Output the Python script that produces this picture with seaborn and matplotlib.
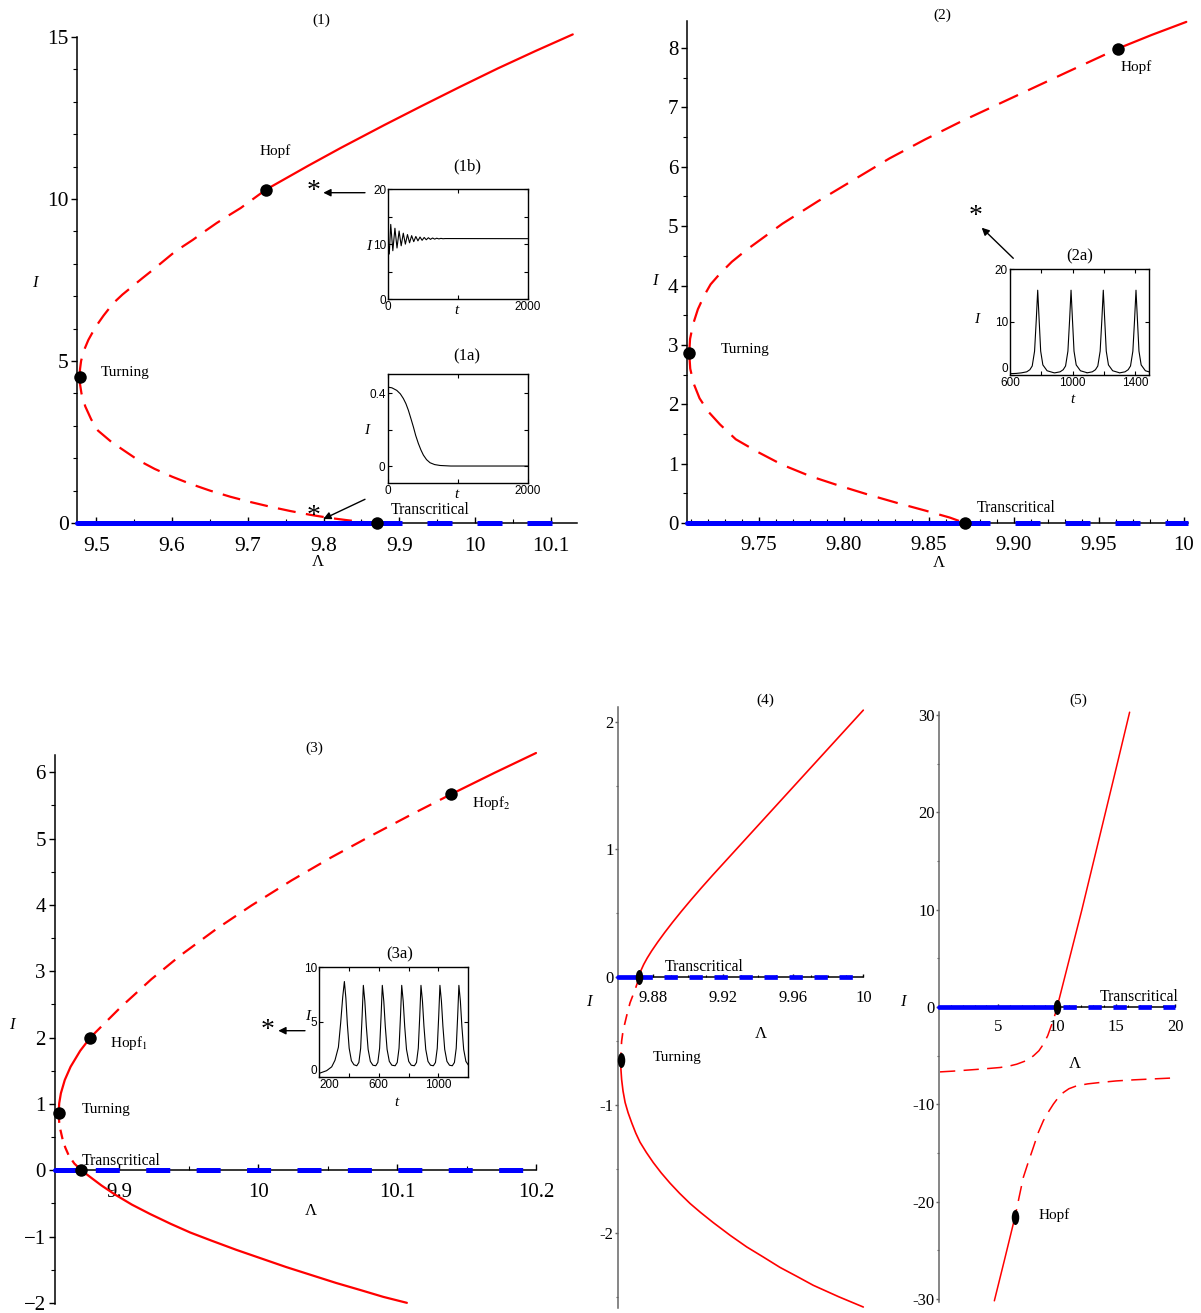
import numpy as np
import pandas as pd
import matplotlib
matplotlib.use("Agg")
import matplotlib.pyplot as plt
import seaborn as sns
from matplotlib.markers import MarkerStyle
from matplotlib.transforms import Affine2D
from matplotlib.ticker import FixedLocator

sns.set_theme(style="white")
plt.rcParams.update({
    "font.family": ["Liberation Serif", "DejaVu Serif"],
    "mathtext.fontset": "stix",
    "lines.scale_dashes": False,
    "axes.edgecolor": "black",
    "xtick.color": "black",
    "ytick.color": "black",
    "text.color": "black",
})

RED = "#ff0000"
BLUE = "#0000ff"

# ---------------- panel (1) ----------------
p1_turn = (9.478, 4.52)
p1_hopf = (9.724, 10.29)
p1_tc = (9.870, 0.0)
p1_up_dash_lam = [9.478, 9.4785, 9.4799, 9.4832, 9.4895, 9.4990, 9.5095, 9.5222, 9.5345, 9.5470,
                  9.5605, 9.5745, 9.5880, 9.6015, 9.6145, 9.6275, 9.6430, 9.6590, 9.6745, 9.6905,
                  9.7070, 9.7240]
p1_up_dash_I = [4.52, 4.75, 5.00, 5.30, 5.65, 6.05, 6.40, 6.78, 7.05, 7.29, 7.55, 7.81, 8.07, 8.33,
                8.54, 8.74, 9.00, 9.26, 9.49, 9.72, 10.00, 10.29]
p1_up_solid_lam = [9.724, 9.78, 9.823, 9.88, 9.9295, 9.98, 10.03, 10.08, 10.129]
p1_up_solid_I = [10.29, 11.03, 11.58, 12.28, 12.87, 13.46, 14.03, 14.57, 15.08]
p1_lo_dash_lam = [9.478, 9.4784, 9.4804, 9.4854, 9.4932, 9.5023, 9.520, 9.537, 9.556, 9.577, 9.600,
                  9.624, 9.650, 9.677, 9.703, 9.730, 9.756, 9.783, 9.807, 9.830, 9.850, 9.870]
p1_lo_dash_I = [4.52, 4.30, 4.00, 3.60, 3.20, 2.85, 2.50, 2.23, 1.93, 1.67, 1.43, 1.21, 1.00, 0.81,
                0.65, 0.50, 0.37, 0.25, 0.16, 0.09, 0.035, 0.0]
p1_dfe_lam = [9.4749, 9.870, 10.1346]
p1_xticks = [9.5, 9.6, 9.7, 9.8, 9.9, 10.0, 10.1]
p1_xticklabels = ["9.5", "9.6", "9.7", "9.8", "9.9", "10", "10.1"]
p1_yticks = [0, 5, 10, 15]
p1_yticklabels = ["0", "5", "10", "15"]

# inset (1b): damped oscillation, turning points of I(t)
a1b_t = [0, 14, 35, 65, 95, 125, 155, 185, 215, 245, 275, 305, 335, 365, 395, 425, 455,
         485, 515, 545, 575, 605, 635, 665, 695, 725, 755, 785, 815, 2000]
a1b_I = [10.0, 8.2, 13.6, 8.8, 12.9, 9.3, 12.4, 9.7, 12.0, 10.0, 11.75, 10.25, 11.55, 10.45,
         11.4, 10.6, 11.3, 10.7, 11.22, 10.8, 11.17, 10.87, 11.12, 10.92, 11.08, 10.96, 11.05,
         10.99, 11.02, 11.0]
# inset (1a): decay to the disease-free state
a1a_t = [0, 60, 129, 180, 224, 260, 295, 330, 367, 400, 438, 475, 510, 555, 605, 670, 748, 900, 2000]
a1a_I = [0.434, 0.430, 0.416, 0.397, 0.371, 0.343, 0.307, 0.263, 0.215, 0.168, 0.124, 0.088,
         0.060, 0.035, 0.018, 0.008, 0.003, 0.0, 0.0]

# ---------------- panel (2) ----------------
p2_turn = (9.7089, 2.86)
p2_hopf = (9.9611, 7.99)
p2_tc = (9.871, 0.0)
p2_up_dash_lam = [9.7089, 9.7094, 9.7112, 9.7140, 9.7177, 9.7215, 9.727, 9.734, 9.7426, 9.7637,
                  9.7847, 9.8057, 9.8267, 9.8477, 9.8687, 9.8897, 9.9107, 9.9317, 9.9506, 9.9611]
p2_up_dash_I = [2.86, 3.10, 3.35, 3.60, 3.83, 4.02, 4.20, 4.40, 4.60, 5.04, 5.42, 5.78, 6.14, 6.46,
                6.76, 7.04, 7.32, 7.60, 7.85, 7.99]
p2_up_solid_lam = [9.9611, 9.981, 10.0014]
p2_up_solid_I = [7.99, 8.22, 8.44]
p2_lo_dash_lam = [9.7089, 9.7095, 9.7115, 9.7150, 9.7200, 9.7270, 9.7363, 9.749, 9.7637, 9.780,
                  9.797, 9.814, 9.831, 9.8477, 9.8624, 9.871]
p2_lo_dash_I = [2.86, 2.60, 2.35, 2.10, 1.88, 1.66, 1.41, 1.20, 0.98, 0.79, 0.63, 0.48, 0.34,
                0.21, 0.09, 0.0]
p2_dfe_lam = [9.7076, 9.871, 10.0024]
p2_xticks = [9.75, 9.80, 9.85, 9.90, 9.95, 10.0]
p2_xticklabels = ["9.75", "9.80", "9.85", "9.90", "9.95", "10"]
p2_yticks = [0, 1, 2, 3, 4, 5, 6, 7, 8]
p2_yticklabels = ["0", "1", "2", "3", "4", "5", "6", "7", "8"]

# inset (2a): sustained spikes
a2_start_t = [600, 640]
a2_start_I = [0.25, 0.3]
a2_peak_t = [777, 990, 1196, 1405]
a2_peak_I = [16.0, 16.0, 16.0, 16.0]
a2_rise_dt = [-105, -70, -50, -35, -20, -9]
a2_rise_I = [0.4, 0.6, 1.0, 1.7, 4.5, 10.5]
a2_fall_dt = [9, 19, 33, 60, 100]
a2_fall_I = [10.5, 4.5, 1.9, 0.8, 0.45]

# ---------------- panel (3) ----------------
p3_turn = (9.8562, 0.86)
p3_hopf1 = (9.879, 2.0)
p3_hopf2 = (10.139, 5.67)
p3_tc = (9.8725, 0.0)
p3_up_solid1_lam = [9.8562, 9.8566, 9.8578, 9.8606, 9.8648, 9.8717, 9.879]
p3_up_solid1_I = [0.86, 1.01, 1.16, 1.36, 1.56, 1.80, 2.0]
p3_up_dash_lam = [9.879, 9.901, 9.923, 9.944, 9.970, 9.995, 10.024, 10.052, 10.081, 10.110, 10.139]
p3_up_dash_I = [2.0, 2.46, 2.88, 3.24, 3.64, 3.99, 4.37, 4.71, 5.04, 5.36, 5.67]
p3_up_solid2_lam = [10.139, 10.170, 10.200]
p3_up_solid2_I = [5.67, 5.99, 6.29]
p3_lo_dash_lam = [9.8562, 9.8566, 9.857, 9.8581, 9.8592, 9.861, 9.8635, 9.8675, 9.8725]
p3_lo_dash_I = [0.86, 0.72, 0.65, 0.55, 0.45, 0.34, 0.22, 0.10, 0.0]
p3_lo_solid_lam = [9.8725, 9.880, 9.887, 9.897, 9.909, 9.922, 9.937, 9.951, 9.966, 9.984, 10.002,
                   10.020, 10.038, 10.056, 10.074, 10.090, 10.107]
p3_lo_solid_I = [0.0, -0.12, -0.23, -0.37, -0.52, -0.66, -0.81, -0.94, -1.06, -1.20, -1.33, -1.46,
                 -1.58, -1.70, -1.81, -1.91, -2.0]
p3_dfe_lam = [9.8532, 9.8725, 10.2]
p3_xticks = [9.9, 10.0, 10.1, 10.2]
p3_xticklabels = ["9.9", "10", "10.1", "10.2"]
p3_yticks = [-2, -1, 0, 1, 2, 3, 4, 5, 6]
p3_yticklabels = ["\u22122", "\u22121", "0", "1", "2", "3", "4", "5", "6"]

# inset (3a): periodic solution
a3_start_t = [200, 251, 285, 307, 330, 345, 359]
a3_start_I = [0.3, 0.55, 0.9, 1.5, 2.7, 4.9, 7.3]
a3_peak_t = [370, 497, 624, 754, 883, 1010, 1137]
a3_peak_I = [8.7, 8.35, 8.35, 8.35, 8.35, 8.35, 8.35]
a3_rise_dt = [-44, -30, -18, -8]
a3_rise_I = [1.0, 1.3, 2.6, 5.6]
a3_fall_dt = [10, 20, 32, 47, 64]
a3_fall_I = [6.9, 4.6, 2.5, 1.4, 1.05]

# ---------------- panel (4) ----------------
p4_turn = (9.8614, -0.65)
p4_tc = (9.872, 0.0)
p4_up_solid_lam = [9.872, 9.873, 9.8745, 9.8765, 9.879, 9.8825, 9.8865, 9.891, 9.896, 9.9015,
                   9.9075, 9.914, 9.933, 9.952, 9.971, 9.990, 10.0]
p4_up_solid_I = [0.0, 0.055, 0.10, 0.15, 0.205, 0.275, 0.35, 0.43, 0.515, 0.605, 0.70, 0.80,
                 1.085, 1.37, 1.655, 1.94, 2.09]
p4_mid_dash_lam = [9.872, 9.8695, 9.8667, 9.8648, 9.8634, 9.8625, 9.8619, 9.8616, 9.8614]
p4_mid_dash_I = [0.0, -0.10, -0.20, -0.30, -0.38, -0.44, -0.50, -0.57, -0.65]
p4_lo_solid_lam = [9.8614, 9.8615, 9.8619, 9.8627, 9.8639, 9.8656, 9.8677, 9.8700, 9.8724, 9.876,
                   9.880, 9.8845, 9.8895, 9.895, 9.901, 9.907, 9.9143, 9.924, 9.9334, 9.943,
                   9.9524, 9.962, 9.9714, 9.986, 10.0]
p4_lo_solid_I = [-0.65, -0.72, -0.80, -0.89, -0.98, -1.06, -1.14, -1.22, -1.29, -1.37, -1.45,
                 -1.53, -1.61, -1.69, -1.77, -1.84, -1.92, -2.02, -2.11, -2.19, -2.27, -2.34,
                 -2.41, -2.50, -2.58]
p4_dfe_lam = [9.86, 9.872, 10.0]
p4_xticks = [9.88, 9.92, 9.96, 10.0]
p4_xticklabels = ["9.88", "9.92", "9.96", "10"]
p4_yticks = [-2, -1, 0, 1, 2]
p4_yticklabels = ["-2", "-1", "0", "1", "2"]

# ---------------- panel (5) ----------------
p5_hopf = (6.43, -21.54)
p5_tc = (10.0, 0.0)
p5_b1_dash_lam = [0.06, 1.2, 2.33, 3.7, 5.15, 5.9, 6.57, 7.3, 7.98, 8.45, 8.83, 9.2, 9.54, 9.8, 10.0]
p5_b1_dash_I = [-6.67, -6.59, -6.49, -6.37, -6.22, -6.08, -5.88, -5.55, -5.03, -4.50, -3.83,
                -2.95, -1.8, -0.85, 0.0]
p5_b1_solid_lam = [10.0, 11.05, 12.1, 13.1, 14.1, 15.1, 16.15]
p5_b1_solid_I = [0.0, 5.0, 10.0, 15.0, 20.0, 25.0, 30.3]
p5_b2_dash_lam = [19.58, 18.0, 16.47, 15.0, 13.64, 12.6, 11.66, 11.0, 10.53, 10.1, 9.68, 9.25,
                  8.83, 8.4, 7.98, 7.55, 7.13, 6.78, 6.43]
p5_b2_dash_I = [-7.31, -7.40, -7.49, -7.60, -7.76, -7.90, -8.10, -8.40, -8.79, -9.30, -9.98,
                -10.8, -11.69, -12.9, -14.43, -15.95, -17.51, -19.5, -21.54]
p5_b2_solid_lam = [6.43, 5.55, 4.67]
p5_b2_solid_I = [-21.54, -25.9, -30.2]
p5_dfe_lam = [0.0, 10.0, 20.0]
p5_xticks = [5, 10, 15, 20]
p5_xticklabels = ["5", "10", "15", "20"]
p5_yticks = [-30, -20, -10, 0, 10, 20, 30]
p5_yticklabels = ["-30", "-20", "-10", "0", "10", "20", "30"]

# ======================================================================
W, H = 1201, 1313
fig = plt.figure(figsize=(W / 100, H / 100), dpi=100)


def px_axes(l, t, r, b, z=1):
    ax = fig.add_axes([l / W, 1 - b / H, (r - l) / W, (b - t) / H])
    ax.set_zorder(z)
    return ax


def ftext(x, y, s, size=11, ha="center", style="normal"):
    fig.text(x / W, 1 - y / H, s, fontsize=size, ha=ha, va="center", fontstyle=style)


def arrow(tail, head):
    fig.axes[0].annotate("", xy=(head[0], H - head[1]), xytext=(tail[0], H - tail[1]),
                         xycoords="figure pixels", textcoords="figure pixels",
                         arrowprops=dict(arrowstyle="-|>", color="black", lw=1.0,
                                         mutation_scale=11, shrinkA=0, shrinkB=0),
                         annotation_clip=False)


def branch(ax, lam, val, color=RED, lw=1.6, dash=None, z=2):
    df = pd.DataFrame({"lam": lam, "val": val})
    kw = dict(color=color, linewidth=lw, zorder=z, clip_on=False)
    if dash is not None:
        kw["linestyle"] = dash
    sns.lineplot(data=df, x="lam", y="val", sort=False, estimator=None, ax=ax, **kw)
    ax.set_xlabel("")
    ax.set_ylabel("")


def dots(ax, pts, size=81, marker="o"):
    sns.scatterplot(x=[p[0] for p in pts], y=[p[1] for p in pts], ax=ax, s=size, marker=marker,
                    color="black", edgecolor="black", linewidth=0, zorder=6, clip_on=False)
    ax.set_xlabel("")
    ax.set_ylabel("")


def style_main(ax, xlim, ylim, xt, xtl, yt, ytl, xminor, yminor, fs, xpad, ypad=2.2,
               spine="black", zero=False, maj=4.0, mino=2.6):
    ax.set_xlim(xlim)
    ax.set_ylim(ylim)
    ax.patch.set_alpha(0)
    ax.grid(False)
    ax.spines["top"].set_visible(False)
    ax.spines["right"].set_visible(False)
    ax.spines["left"].set_color(spine)
    ax.spines["left"].set_linewidth(1.1)
    ax.spines["bottom"].set_color("black")
    ax.spines["bottom"].set_linewidth(1.1)
    ax.spines["bottom"].set_zorder(1)
    if zero:
        ax.spines["bottom"].set_position(("data", 0))
    ax.set_xticks(xt)
    ax.set_xticklabels(xtl)
    ax.set_yticks(yt)
    ax.set_yticklabels(ytl)
    ax.xaxis.set_minor_locator(FixedLocator(xminor))
    ax.yaxis.set_minor_locator(FixedLocator(yminor))
    ax.tick_params(axis="x", which="major", direction="in", length=maj, width=1, pad=xpad,
                   labelsize=fs, bottom=True)
    ax.tick_params(axis="x", which="minor", direction="in", length=mino, width=0.8, bottom=True)
    ax.tick_params(axis="y", which="major", direction="out", length=maj, width=1, pad=ypad,
                   labelsize=fs, left=True, colors=spine, labelcolor="black")
    ax.tick_params(axis="y", which="minor", direction="out", length=mino, width=0.8, left=True,
                   colors=spine)


def style_inset(ax, xlim, ylim, xt, xtl, yt, ytl):
    ax.set_xlim(xlim)
    ax.set_ylim(ylim)
    ax.set_facecolor("white")
    ax.grid(False)
    for s in ax.spines.values():
        s.set_visible(True)
        s.set_color("black")
        s.set_linewidth(1.0)
    ax.set_xticks(xt)
    ax.set_xticklabels(xtl)
    ax.set_yticks(yt)
    ax.set_yticklabels(ytl)
    ax.tick_params(direction="in", top=True, right=True, bottom=True, left=True, length=3,
                   width=0.8, labelsize=8.5, pad=1.5, labelfontfamily="Liberation Sans")


def pulses(start_t, start_I, peak_t, peak_I, rise_dt, rise_I, fall_dt, fall_I, ref, first_rise):
    t, v = list(start_t), list(start_I)
    for k, (tp, hp) in enumerate(zip(peak_t, peak_I)):
        if k > 0 or first_rise:
            t += [tp + d for d in rise_dt]
            v += list(rise_I)
        t.append(tp)
        v.append(hp)
        t += [tp + d for d in fall_dt]
        v += [x * hp / ref for x in fall_I]
    return t, v


# ---------------- panel (1) ----------------
ax1 = px_axes(77.3, 37, 577, 523)
branch(ax1, p1_up_dash_lam, p1_up_dash_I, dash=(0, (13, 7.5)))
branch(ax1, p1_lo_dash_lam, p1_lo_dash_I, dash=(0, (13, 7.5)))
branch(ax1, p1_up_solid_lam, p1_up_solid_I)
branch(ax1, p1_dfe_lam[:2], [0, 0], color=BLUE, lw=3.6, z=3)
branch(ax1, p1_dfe_lam[1:], [0, 0], color=BLUE, lw=3.6, dash=(0, (18, 18)), z=3)
dots(ax1, [p1_turn, p1_hopf, p1_tc])
style_main(ax1, (9.4749, 10.1346), (0, 15), p1_xticks, p1_xticklabels, p1_yticks, p1_yticklabels,
           np.arange(9.55, 10.14, 0.1), np.arange(0, 15.1, 1), fs=15.5, xpad=10)

ins1b = px_axes(388.3, 189.3, 527.7, 299, z=5)
sns.lineplot(x=a1b_t, y=a1b_I, ax=ins1b, color="black", linewidth=0.8, sort=False, estimator=None)
style_inset(ins1b, (0, 2000), (0, 20), [0, 1000, 2000], ["0", "", "2000"],
            [0, 5, 10, 15, 20], ["0", "", "10", "", "20"])

ins1a = px_axes(387.7, 374, 527.7, 483.3, z=5)
sns.lineplot(x=a1a_t, y=a1a_I, ax=ins1a, color="black", linewidth=0.8, sort=False, estimator=None)
style_inset(ins1a, (0, 2000), (-0.095, 0.506), [0, 1000, 2000], ["0", "", "2000"],
            [0, 0.2, 0.4], ["0", "", "0.4"])

# ---------------- panel (2) ----------------
ax2 = px_axes(687, 21.3, 1188, 523)
branch(ax2, p2_up_dash_lam, p2_up_dash_I, dash=(0, (15, 8)))
branch(ax2, p2_lo_dash_lam, p2_lo_dash_I, dash=(0, (15, 8)))
branch(ax2, p2_up_solid_lam, p2_up_solid_I)
branch(ax2, p2_dfe_lam[:2], [0, 0], color=BLUE, lw=3.6, z=3)
branch(ax2, p2_dfe_lam[1:], [0, 0], color=BLUE, lw=3.6, dash=(0, (18, 18)), z=3)
dots(ax2, [p2_turn, p2_hopf, p2_tc])
style_main(ax2, (9.7076, 10.0024), (0, 8.45), p2_xticks, p2_xticklabels, p2_yticks,
           p2_yticklabels, np.arange(9.71, 10.001, 0.01), np.arange(0, 8.45, 0.5), fs=15,
           xpad=9)

t2a, v2a = pulses(a2_start_t, a2_start_I, a2_peak_t, a2_peak_I, a2_rise_dt, a2_rise_I,
                  a2_fall_dt, a2_fall_I, 16.0, True)
ins2a = px_axes(1010, 269, 1149.3, 375, z=5)
sns.lineplot(x=t2a, y=v2a, ax=ins2a, color="black", linewidth=0.8, sort=False, estimator=None)
style_inset(ins2a, (600, 1490), (0, 20), [600, 800, 1000, 1200, 1400],
            ["600", "", "1000", "", "1400"], [0, 10, 20], ["0", "10", "20"])
ins2a.get_yticklabels()[0].set_verticalalignment("bottom")

# ---------------- panel (3) ----------------
ax3 = px_axes(54.5, 755, 536, 1303.5)
branch(ax3, p3_up_solid1_lam, p3_up_solid1_I)
branch(ax3, p3_up_dash_lam, p3_up_dash_I, dash=(0, (11, 7)))
branch(ax3, p3_up_solid2_lam, p3_up_solid2_I)
branch(ax3, p3_lo_dash_lam, p3_lo_dash_I, dash=(0, (7, 5)))
branch(ax3, p3_lo_solid_lam, p3_lo_solid_I)
branch(ax3, p3_dfe_lam[:2], [0, 0], color=BLUE, lw=3.6, z=3)
branch(ax3, p3_dfe_lam[1:], [0, 0], color=BLUE, lw=3.6, dash=(26, (17.3, 19)), z=3)
dots(ax3, [p3_turn, p3_hopf1, p3_hopf2, p3_tc])
style_main(ax3, (9.8532, 10.2), (-2.01, 6.26), p3_xticks, p3_xticklabels, p3_yticks,
           p3_yticklabels, np.arange(9.9, 10.21, 0.05), np.arange(-2, 6.26, 0.5), fs=15,
           xpad=9, zero=True)

t3a, v3a = pulses(a3_start_t, a3_start_I, a3_peak_t, a3_peak_I, a3_rise_dt, a3_rise_I,
                  a3_fall_dt, a3_fall_I, 8.35, False)
ins3a = px_axes(319, 967.3, 468.3, 1076.7, z=5)
sns.lineplot(x=t3a, y=v3a, ax=ins3a, color="black", linewidth=0.8, sort=False, estimator=None)
style_inset(ins3a, (200, 1200), (0, 10), [200, 400, 600, 800, 1000],
            ["200", "", "600", "", "1000"], [0, 5, 10], ["0", "5", "10"])
ins3a.get_xticklabels()[0].set_horizontalalignment("left")
ins3a.get_yticklabels()[0].set_verticalalignment("bottom")

# ---------------- panel (4) ----------------
ellipse = MarkerStyle("o", transform=Affine2D().scale(0.5, 1.0))
ax4 = px_axes(618.3, 706.7, 863.3, 1308.3)
branch(ax4, p4_up_solid_lam, p4_up_solid_I, lw=1.2)
branch(ax4, p4_mid_dash_lam, p4_mid_dash_I, lw=1.2, dash=(0, (8, 6)))
branch(ax4, p4_lo_solid_lam, p4_lo_solid_I, lw=1.2)
branch(ax4, p4_dfe_lam[:2], [0, 0], color=BLUE, lw=3.4, z=3)
branch(ax4, p4_dfe_lam[1:], [0, 0], color=BLUE, lw=3.4, dash=(0, (9.6, 8.4)), z=3)
dots(ax4, [p4_turn, p4_tc], size=117, marker=ellipse)
style_main(ax4, (9.86, 10.0), (-2.59, 2.117), p4_xticks, p4_xticklabels, p4_yticks,
           p4_yticklabels, np.arange(9.87, 10.0, 0.01), np.arange(-2.5, 2.1, 0.5), fs=12,
           xpad=9, ypad=0.8, spine="#666666", zero=True, maj=2.5, mino=1.8)

# ---------------- panel (5) ----------------
ax5 = px_axes(939.3, 711.7, 1175, 1301.7)
branch(ax5, p5_b1_dash_lam, p5_b1_dash_I, lw=1.1, dash=(0, (11, 6)))
branch(ax5, p5_b1_solid_lam, p5_b1_solid_I, lw=1.1)
branch(ax5, p5_b2_dash_lam, p5_b2_dash_I, lw=1.1, dash=(0, (11, 6)))
branch(ax5, p5_b2_solid_lam, p5_b2_solid_I, lw=1.1)
branch(ax5, p5_dfe_lam[:2], [0, 0], color=BLUE, lw=3.4, z=3)
branch(ax5, p5_dfe_lam[1:], [0, 0], color=BLUE, lw=3.4, dash=(13.7, (9.6, 8.4)), z=3)
dots(ax5, [p5_hopf, p5_tc], size=117, marker=ellipse)
style_main(ax5, (0, 20), (-30.29, 30.35), p5_xticks, p5_xticklabels, p5_yticks,
           p5_yticklabels, np.arange(1, 20, 1), np.arange(-25, 30, 10), fs=12,
           xpad=9, ypad=0.8, spine="#666666", zero=True, maj=2.5, mino=1.8)

# ---------------- labels ----------------
# panel (1)
ftext(321, 20, "(1)", 11)
ftext(35, 283, "I", 12, style="italic")
ftext(318, 562, "\u039b", 12)
ftext(275, 151, "Hopf", 11)
ftext(101, 373, "Turning", 11, ha="left")
ftext(391, 510, "Transcritical", 11.3, ha="left")
ftext(467.7, 166.7, "(1b)", 12)
ftext(466.7, 356.7, "(1a)", 12)
ftext(368.3, 246.7, "I", 11, style="italic")
ftext(456, 310.5, "t", 11, style="italic")
ftext(366.7, 430, "I", 11, style="italic")
ftext(456, 494, "t", 11, style="italic")
ftext(314, 191.7, "*", 20)
ftext(313.3, 516.7, "*", 20)
arrow((365, 192.7), (323.3, 192.7))
arrow((365, 499.3), (323.3, 519))

# panel (2)
ftext(942, 15, "(2)", 11)
ftext(655, 281, "I", 12, style="italic")
ftext(939, 563, "\u039b", 12)
ftext(1121, 67, "Hopf", 11, ha="left")
ftext(721, 349, "Turning", 11, ha="left")
ftext(977, 508, "Transcritical", 11.3, ha="left")
ftext(1079.3, 256, "(2a)", 12)
ftext(977, 320, "I", 11, style="italic")
ftext(1072, 400, "t", 11, style="italic")
ftext(976, 216.7, "*", 20)
arrow((1013.3, 258.3), (981.7, 227.7))

# panel (3)
ftext(314, 748, "(3)", 11)
ftext(12, 1025, "I", 12, style="italic")
ftext(311, 1211, "\u039b", 12)
ftext(110, 1043, "Hopf$_1$", 11, ha="left")
ftext(472, 803, "Hopf$_2$", 11, ha="left")
ftext(82, 1110, "Turning", 11, ha="left")
ftext(82, 1161, "Transcritical", 11.3, ha="left")
ftext(400, 954, "(3a)", 12)
ftext(307.3, 1016, "I", 11, style="italic")
ftext(396, 1102, "t", 11, style="italic")
ftext(267.3, 1030.7, "*", 20)
arrow((305, 1030.7), (278.3, 1030.7))

# panel (4)
ftext(765, 700, "(4)", 11)
ftext(665, 967, "Transcritical", 11.3, ha="left")
ftext(653, 1058, "Turning", 11, ha="left")
ftext(589, 1002, "I", 12, style="italic")
ftext(761, 1034, "\u039b", 12)

# panel (5)
ftext(1078, 700, "(5)", 11)
ftext(1100, 997, "Transcritical", 11.3, ha="left")
ftext(1039, 1215, "Hopf", 11, ha="left")
ftext(903, 1002, "I", 12, style="italic")
ftext(1075, 1064, "\u039b", 12)

fig.savefig("out.png", dpi=100)
